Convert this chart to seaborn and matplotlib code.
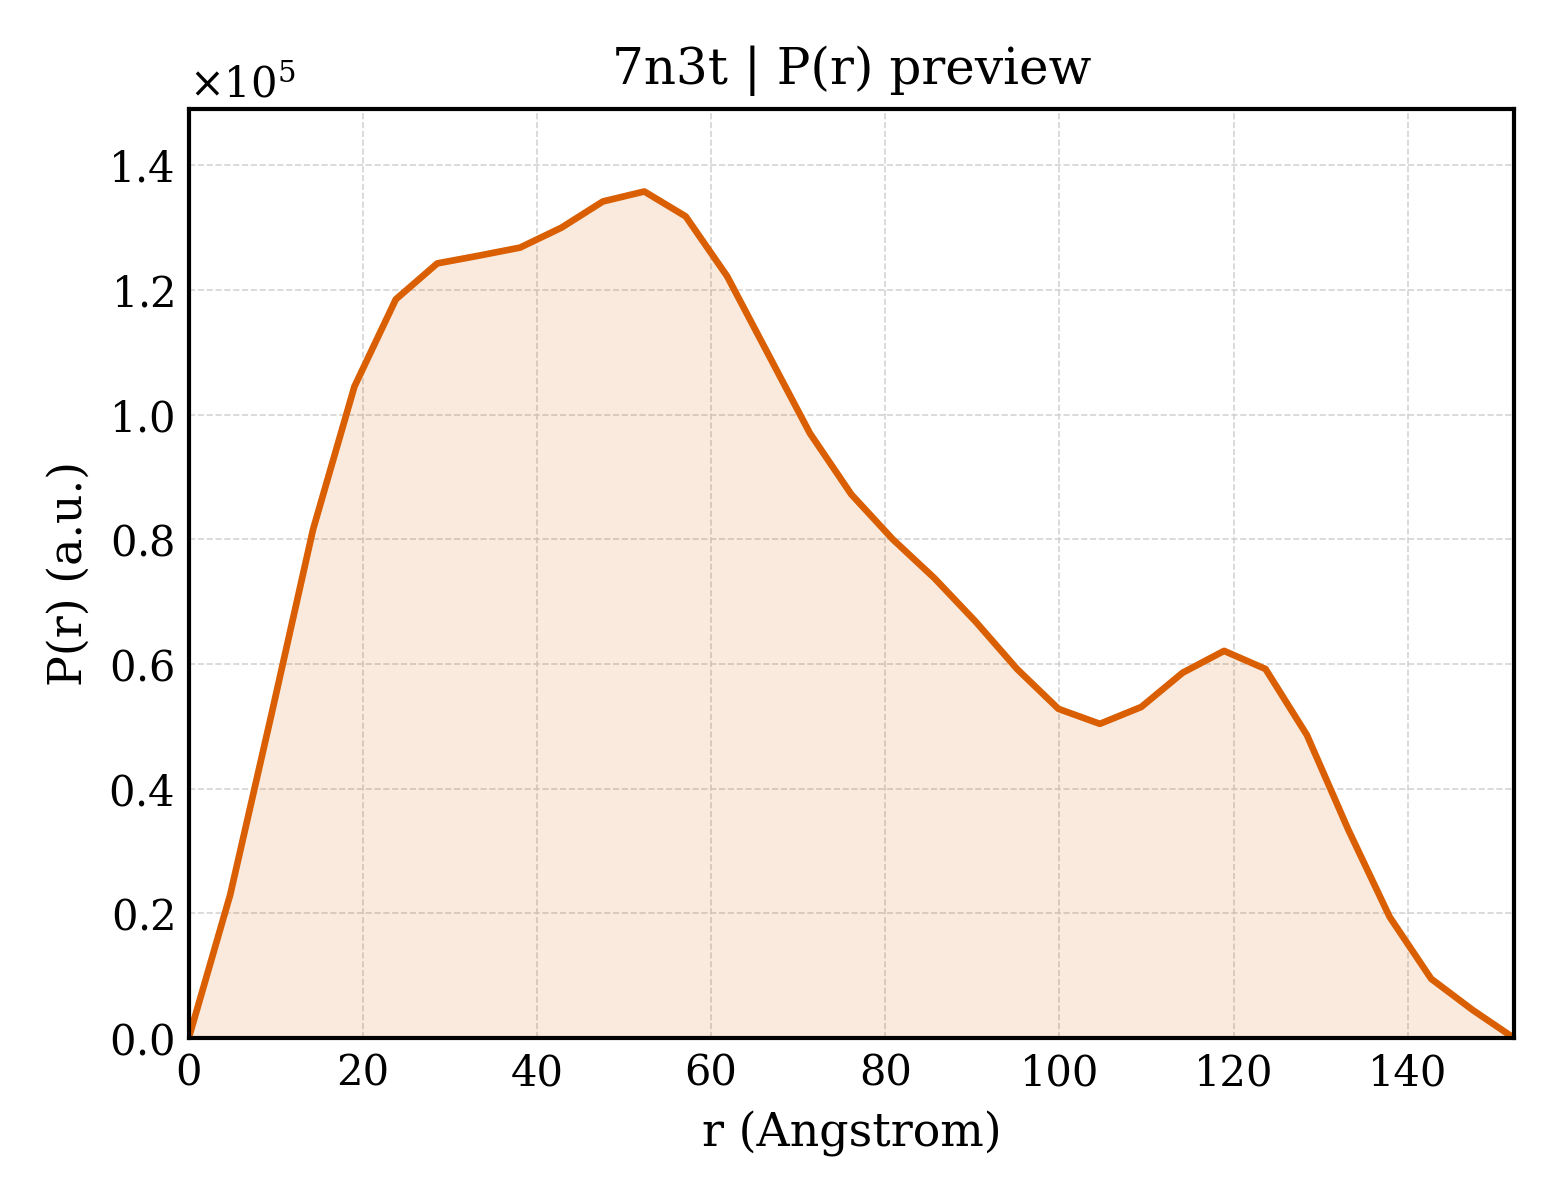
import numpy as np
import pandas as pd
import matplotlib
matplotlib.use("Agg")
import matplotlib.pyplot as plt
import seaborn as sns
from matplotlib.ticker import ScalarFormatter

r_values = [0.0, 4.756, 9.513, 14.269, 19.025, 23.781, 28.538, 33.294, 38.050,
            42.806, 47.563, 52.319, 57.075, 61.831, 66.588, 71.344, 76.100,
            80.856, 85.613, 90.369, 95.125, 99.881, 104.638, 109.394, 114.150,
            118.906, 123.663, 128.419, 133.175, 137.931, 142.688, 147.444, 152.2]
p_values = [0.0, 0.2296, 0.52, 0.8155, 1.045, 1.185, 1.2426, 1.255, 1.268,
            1.300, 1.342, 1.358, 1.318, 1.222, 1.096, 0.970, 0.872, 0.800,
            0.738, 0.668, 0.592, 0.528, 0.504, 0.531, 0.586, 0.621, 0.592,
            0.486, 0.334, 0.194, 0.095, 0.045, 0.0]
p_values = [v * 1e5 for v in p_values]

df = pd.DataFrame({"r": r_values, "P": p_values})

sns.set_theme(style="white")
plt.rcParams["font.family"] = ["DejaVu Serif"]
plt.rcParams["mathtext.fontset"] = "dejavuserif"

fig = plt.figure(figsize=(5.2, 4), dpi=300)
ax = fig.add_axes([0.121, 0.135, 0.8495, 0.774])

color = "#D95F02"
ax.fill_between(df["r"], df["P"], 0, color=color, alpha=0.13, linewidth=0)
sns.lineplot(data=df, x="r", y="P", ax=ax, color=color, linewidth=1.6)

ax.set_xlim(0, 152.2)
ax.set_ylim(0, 1.49e5)
ax.set_xticks([0, 20, 40, 60, 80, 100, 120, 140])
ax.set_yticks([0, 0.2e5, 0.4e5, 0.6e5, 0.8e5, 1.0e5, 1.2e5, 1.4e5])

fmt = ScalarFormatter(useMathText=True)
fmt.set_powerlimits((0, 0))
ax.yaxis.set_major_formatter(fmt)
ax.yaxis.get_offset_text().set_fontsize(10)

ax.grid(True, linestyle="--", linewidth=0.4, color="#d0d0d0", alpha=0.9)
ax.tick_params(direction="in", length=4, width=1, labelsize=10, colors="black")
for s in ax.spines.values():
    s.set_color("black")
    s.set_linewidth(1.0)

ax.set_xlabel("r (Angstrom)", fontsize=11, color="black")
ax.set_ylabel("P(r) (a.u.)", fontsize=11, color="black")
ax.set_title("7n3t | P(r) preview", fontsize=12, color="black")

fig.savefig("out.png", dpi=300)
